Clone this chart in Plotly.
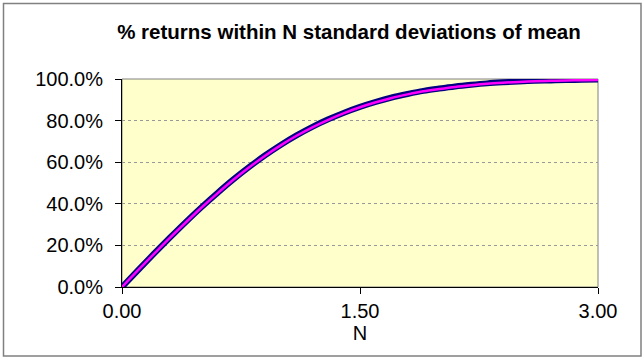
import plotly.graph_objects as go

# Fraction of returns falling within N standard deviations of the mean
n_values = [0.0, 0.1, 0.2, 0.3, 0.4, 0.5, 0.6, 0.7, 0.8, 0.9, 1.0,
            1.1, 1.2, 1.3, 1.4, 1.5, 1.6, 1.7, 1.8, 1.9, 2.0,
            2.1, 2.2, 2.3, 2.4, 2.5, 2.6, 2.7, 2.8, 2.9, 3.0]
normal_pct = [0.000, 0.080, 0.159, 0.236, 0.311, 0.383, 0.451, 0.516, 0.576, 0.632, 0.683,
              0.729, 0.770, 0.806, 0.838, 0.866, 0.890, 0.911, 0.928, 0.943, 0.954,
              0.964, 0.972, 0.979, 0.984, 0.988, 0.991, 0.993, 0.995, 0.996, 0.997]
sample_pct = [0.000, 0.080, 0.158, 0.235, 0.309, 0.381, 0.449, 0.514, 0.574, 0.630, 0.681,
              0.727, 0.768, 0.804, 0.836, 0.864, 0.888, 0.909, 0.926, 0.941, 0.952,
              0.962, 0.970, 0.977, 0.982, 0.986, 0.989, 0.991, 0.993, 0.994, 0.995]

x_tick_vals = [0.0, 1.5, 3.0]
x_tick_text = ["0.00", "1.50", "3.00"]
y_tick_vals = [0.0, 0.2, 0.4, 0.6, 0.8, 1.0]
y_tick_text = ["0.0%", "20.0%", "40.0%", "60.0%", "80.0%", "100.0%"]

FONT = "Liberation Sans, Arial, sans-serif"
FS = 20

fig = go.Figure()
fig.add_trace(go.Scatter(x=n_values, y=normal_pct, mode="lines",
                         line=dict(color="#000080", width=6, shape="spline"),
                         hoverinfo="skip"))
fig.add_trace(go.Scatter(x=n_values, y=sample_pct, mode="lines",
                         line=dict(color="#FF00FF", width=2.5, shape="spline"),
                         hoverinfo="skip"))

# plot area: l=122, r=598, t=79, b=287 in a 644x358 page
L, R, T, B = 122, 598, 79, 287
W, H = R - L, B - T

def px_x(v):
    return (v - L) / W

def px_y(v):
    return (B - v) / H

fig.update_layout(
    width=644, height=358,
    margin=dict(l=L, r=644 - R, t=T, b=358 - B),
    paper_bgcolor="white",
    plot_bgcolor="#FFFFCC",
    showlegend=False,
    font=dict(family=FONT, size=FS, color="black"),
    title=dict(text="<b>% returns within N standard deviations of mean</b>",
               x=px_x(349), xanchor="center", xref="paper",
               y=1 - 32 / 358, yanchor="middle",
               font=dict(family=FONT, size=FS + 0.5, color="black")),
    xaxis=dict(range=[0, 3], tickvals=x_tick_vals, ticktext=x_tick_text,
               showgrid=False, zeroline=False,
               showline=True, linecolor="black", linewidth=1,
               ticks="outside", ticklen=6, tickcolor="black",
               ticklabelstandoff=0,
               title=dict(text="N", standoff=0, font=dict(size=FS)),
               tickfont=dict(size=FS)),
    yaxis=dict(range=[0, 1], tickvals=y_tick_vals, ticktext=y_tick_text,
               showgrid=True, gridcolor="#999999", griddash="dot", gridwidth=1,
               zeroline=False,
               showline=True, linecolor="black", linewidth=1,
               ticks="outside", ticklen=6, tickcolor="black",
               ticklabelstandoff=8,
               tickfont=dict(size=FS)),
    shapes=[
        # plot area frame (top and right edges)
        dict(type="rect", xref="paper", yref="paper", x0=0, x1=1, y0=0, y1=1,
             line=dict(color="#808080", width=1), layer="below"),
        # outer chart frame
        dict(type="rect", xref="paper", yref="paper",
             x0=px_x(3.5), x1=px_x(641), y0=px_y(356), y1=px_y(3.5),
             line=dict(color="#808080", width=1.5)),
    ],
)

fig.write_html("out.html")
